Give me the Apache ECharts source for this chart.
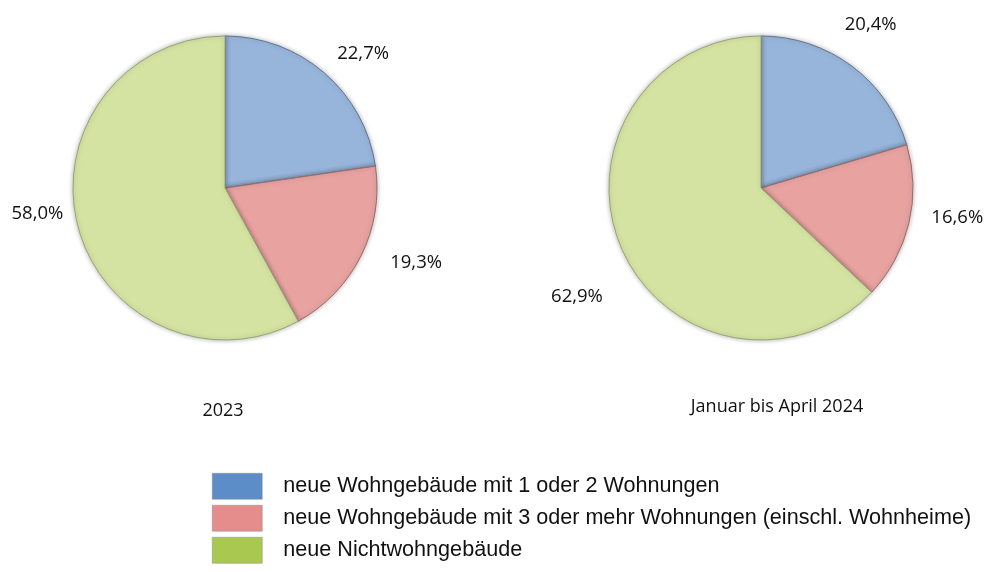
<!DOCTYPE html>
<html><head><meta charset="utf-8">
<script src="https://cdn.jsdelivr.net/npm/echarts@6/dist/echarts.min.js"></script>
<style>html,body{margin:0;padding:0;background:#fff}#c{width:989px;height:572px}</style>
</head><body><div id="c"></div>
<script>
const categories = ['neue Wohngebäude mit 1 oder 2 Wohnungen','neue Wohngebäude mit 3 oder mehr Wohnungen (einschl. Wohnheime)','neue Nichtwohngebäude'];
const values2023 = [22.7, 19.3, 58.0];
const values2024 = [20.4, 16.6, 62.9];
const panelTitles = ['2023', 'Januar bis April 2024'];

const sliceColors = ['#97B5DB', '#E8A3A1', '#D5E3A2'];
const sliceBorders = ['#5F7390', '#9A6A68', '#98A374'];
const legendColors = ['#5D8DC9', '#E58C8C', '#A9C84F'];
// label nudges (style only)
const labelNudge = [
  [[-12,-6],[0,-1],[16,-17]],
  [[-31,-27],[-8,-10],[11,41]]
];

function fmt(v){ return v.toFixed(1).replace('.', ',') + '%'; }
function mkData(vals){
  return vals.map((v,i)=>({name:categories[i], value:v,
    itemStyle:{color:sliceColors[i], borderColor:sliceBorders[i], borderWidth:1}}));
}
function mkSeries(vals, center, si){
  return {type:'pie', center:center, radius:152, startAngle:90, clockwise:true,
    data:mkData(vals), silent:true, avoidLabelOverlap:false,
    label:{show:true, position:'outside', alignTo:'none', overflow:'none', formatter:p=>fmt(p.value), fontFamily:'Open Sans', fontSize:18.5, color:'#111'},
    labelLine:{show:false, length:18, length2:8},
    labelLayout:function(p){ const n = labelNudge[si][p.dataIndex]; return {dx:n[0], dy:n[1]}; },
    itemStyle:{shadowBlur:5, shadowColor:'rgba(0,0,0,0.3)'}};
}
const chart = echarts.init(document.getElementById('c'));
chart.setOption({
  animation:false,
  title:[
    {text:panelTitles[0], left:223, top:402, textAlign:'center', padding:0, textStyle:{fontFamily:'Open Sans', fontSize:18, fontWeight:'normal', color:'#111'}},
    {text:panelTitles[1], left:777, top:398, textAlign:'center', padding:0, textStyle:{fontFamily:'Open Sans', fontSize:18, fontWeight:'normal', color:'#111'}}
  ],
  legend:{orient:'vertical', left:212, top:473, height:99, padding:0, icon:'rect', itemWidth:50, itemHeight:26, itemGap:5.5,
    selectedMode:false,
    textStyle:{fontFamily:'Liberation Sans', fontSize:21.6, color:'#111', padding:[0,0,0,16]},
    data:categories.map((n,i)=>({name:n, itemStyle:{color:legendColors[i], borderColor:'#8a8a8a', borderWidth:0.5}}))},
  series:[mkSeries(values2023,[225,188],0), mkSeries(values2024,[761,188],1)]
});
</script></body></html>
